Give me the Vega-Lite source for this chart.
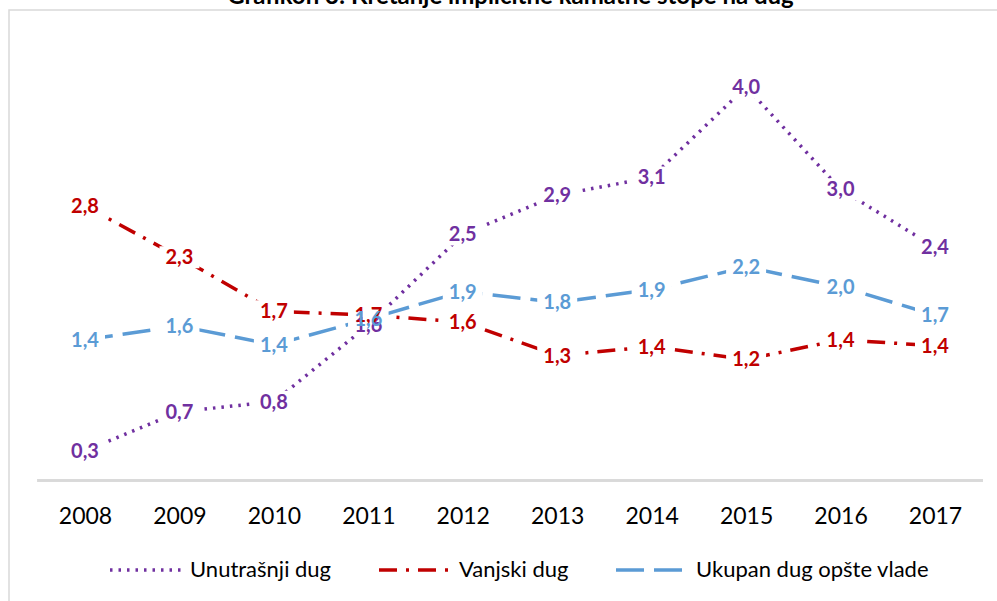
{
  "$schema": "https://vega.github.io/schema/vega-lite/v6.json",
  "autosize": "none",
  "padding": {"left": 9, "top": 10, "right": 0, "bottom": 0},
  "width": 989,
  "height": 592,
  "title": {
    "text": "Grafikon 3: Kretanje implicitne kamatne stope na dug",
    "font": "Lato",
    "fontSize": 24,
    "fontWeight": "bold",
    "color": "#000000",
    "anchor": "middle",
    "frame": "group",
    "baseline": "alphabetic",
    "offset": -18,
    "dx": 7
  },
  "config": {
    "locale": {"number": {"decimal": ",", "thousands": ".", "grouping": [3], "currency": ["", " KM"]}},
    "view": {"stroke": "#d9d9d9", "strokeWidth": 1.5},
    "font": "Lato"
  },
  "data": {
    "values": [
      {"year": 2008, "series": "Unutrašnji dug", "value": 0.3},
      {"year": 2009, "series": "Unutrašnji dug", "value": 0.7},
      {"year": 2010, "series": "Unutrašnji dug", "value": 0.8},
      {"year": 2011, "series": "Unutrašnji dug", "value": 1.58},
      {"year": 2012, "series": "Unutrašnji dug", "value": 2.5},
      {"year": 2013, "series": "Unutrašnji dug", "value": 2.9},
      {"year": 2014, "series": "Unutrašnji dug", "value": 3.08},
      {"year": 2015, "series": "Unutrašnji dug", "value": 4.0},
      {"year": 2016, "series": "Unutrašnji dug", "value": 2.96},
      {"year": 2017, "series": "Unutrašnji dug", "value": 2.37},
      {"year": 2008, "series": "Vanjski dug", "value": 2.79},
      {"year": 2009, "series": "Vanjski dug", "value": 2.27},
      {"year": 2010, "series": "Vanjski dug", "value": 1.72},
      {"year": 2011, "series": "Vanjski dug", "value": 1.68},
      {"year": 2012, "series": "Vanjski dug", "value": 1.61},
      {"year": 2013, "series": "Vanjski dug", "value": 1.27},
      {"year": 2014, "series": "Vanjski dug", "value": 1.36},
      {"year": 2015, "series": "Vanjski dug", "value": 1.23},
      {"year": 2016, "series": "Vanjski dug", "value": 1.43},
      {"year": 2017, "series": "Vanjski dug", "value": 1.37},
      {"year": 2008, "series": "Ukupan dug opšte vlade", "value": 1.43},
      {"year": 2009, "series": "Ukupan dug opšte vlade", "value": 1.57},
      {"year": 2010, "series": "Ukupan dug opšte vlade", "value": 1.38},
      {"year": 2011, "series": "Ukupan dug opšte vlade", "value": 1.64},
      {"year": 2012, "series": "Ukupan dug opšte vlade", "value": 1.92},
      {"year": 2013, "series": "Ukupan dug opšte vlade", "value": 1.81},
      {"year": 2014, "series": "Ukupan dug opšte vlade", "value": 1.94},
      {"year": 2015, "series": "Ukupan dug opšte vlade", "value": 2.17},
      {"year": 2016, "series": "Ukupan dug opšte vlade", "value": 1.97},
      {"year": 2017, "series": "Ukupan dug opšte vlade", "value": 1.68}
    ]
  },
  "encoding": {
    "x": {
      "field": "year",
      "type": "quantitative",
      "scale": {"domain": [2007.1953, 2017.6671], "nice": false, "zero": false},
      "axis": {
        "values": [2008, 2009, 2010, 2011, 2012, 2013, 2014, 2015, 2016, 2017],
        "format": "d",
        "title": null,
        "domain": false,
        "ticks": false,
        "tickSize": 0,
        "grid": false,
        "offset": -121,
        "labelFont": "Lato",
        "labelFontSize": 23,
        "labelColor": "#000000",
        "labelBaseline": "alphabetic",
        "labelPadding": 42,
        "labelFlush": false,
        "labelOverlap": false
      }
    },
    "y": {
      "field": "value",
      "type": "quantitative",
      "scale": {"domain": [-1.2348, 4.7815], "nice": false, "zero": false},
      "axis": null
    }
  },
  "layer": [
    {
      "mark": {"type": "rule", "color": "#d9d9d9", "strokeWidth": 2},
      "encoding": {
        "x": {"datum": 2007.5},
        "x2": {"datum": 2017.5},
        "y": {"datum": 0}
      }
    },
    {
      "mark": {"type": "line", "strokeWidth": 3.5},
      "encoding": {
        "color": {
          "field": "series",
          "type": "nominal",
          "scale": {
            "domain": ["Unutrašnji dug", "Vanjski dug", "Ukupan dug opšte vlade"],
            "range": ["#7030A0", "#C00000", "#5B9BD5"]
          },
          "legend": {
            "orient": "none",
            "legendX": 99,
            "legendY": 522,
            "direction": "horizontal",
            "title": null,
            "symbolType": "stroke",
            "symbolSize": 5184,
            "symbolStrokeWidth": 3.5,
            "labelFont": "Lato",
            "labelFontSize": 22,
            "labelColor": "#000000",
            "labelOffset": 6,
            "labelLimit": 400,
            "columnPadding": 40,
            "padding": 0
          }
        },
        "strokeDash": {
          "field": "series",
          "type": "nominal",
          "scale": {
            "domain": ["Unutrašnji dug", "Vanjski dug", "Ukupan dug opšte vlade"],
            "range": [[2.5, 6], [18, 9, 3, 9], [28, 10]]
          },
          "legend": {
            "orient": "none",
            "legendX": 99,
            "legendY": 522,
            "direction": "horizontal",
            "title": null,
            "symbolType": "stroke",
            "symbolSize": 5184,
            "symbolStrokeWidth": 3.5,
            "labelFont": "Lato",
            "labelFontSize": 22,
            "labelColor": "#000000",
            "labelOffset": 6,
            "labelLimit": 400,
            "columnPadding": 40,
            "padding": 0
          }
        }
      }
    },
    {
      "mark": {
        "type": "point",
        "shape": "M-1,-0.55H1V0.55H-1Z",
        "size": 1600,
        "filled": true,
        "fill": "#ffffff",
        "opacity": 1,
        "strokeWidth": 0
      },
      "encoding": {}
    },
    {
      "mark": {"type": "text", "font": "Lato", "fontSize": 20, "fontWeight": "bold", "baseline": "middle", "align": "center", "dy": 1},
      "encoding": {
        "text": {"field": "value", "type": "quantitative", "format": ".1f"},
        "color": {"field": "series", "type": "nominal", "legend": null}
      }
    }
  ]
}
